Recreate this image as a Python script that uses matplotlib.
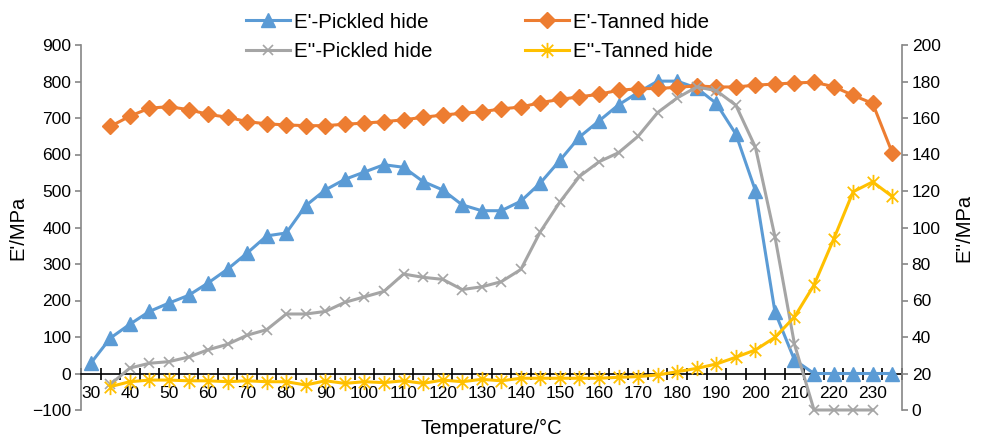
import matplotlib

matplotlib.use("Agg")
import matplotlib.pyplot as plt
import numpy as np
from matplotlib.path import Path
from matplotlib.ticker import FixedLocator

nan = np.nan

temperature = list(range(30, 240, 5))
x_labels = list(range(30, 240, 10))

# E' (left axis, MPa)
e1_pickled = [28, 97, 135, 170, 193, 214, 248, 286, 330, 377, 385, 460, 503, 532,
              552, 572, 565, 526, 503, 462, 446, 446, 472, 522, 584, 648, 692, 736,
              770, 801, 801, 782, 740, 656, 501, 169, 37, 0, 0, 0, 0, 0]
e1_tanned = [nan, 677, 705, 727, 731, 723, 710, 702, 690, 684, 681, 679, 679, 683,
             686, 690, 695, 702, 708, 713, 717, 725, 730, 742, 751, 758, 765, 776,
             780, 781, 784, 788, 785, 785, 790, 793, 796, 798, 786, 762, 740, 605]
# E'' (right axis, MPa)
e2_pickled = [nan, 14, 23, 25.6, 26.5, 29, 33, 36, 41, 44, 52.6, 52.6, 54, 59,
              62, 65, 74.5, 72.7, 71.6, 66, 67.5, 70.3, 77, 97.7, 114, 128, 136, 141,
              150, 163, 171, 177, 175, 167, 144, 95, 36, 0, 0, 0, 0, nan]
e2_tanned = [nan, 12.8, 15.5, 16.4, 16.4, 16, 16, 15.5, 16, 15.5, 15.5, 13.7, 16, 14.6,
             15.5, 15, 16, 14.6, 16.4, 15.5, 16.8, 16, 17.4, 17.4, 17.4, 17.4, 17.4, 17.9,
             18.3, 19.2, 21, 22.8, 25.2, 28.9, 32.9, 39.8, 51, 68.5, 93.5, 119.6, 125, 117]

BLUE = "#5B9BD5"
ORANGE = "#ED7D31"
GRAY = "#A5A5A5"
YELLOW = "#FFC000"
AXIS_GRAY = "#868686"

# excel-like star marker: vertical stroke plus an x
star = Path(
    [(0, -1), (0, 1), (-0.75, -0.75), (0.75, 0.75), (-0.75, 0.75), (0.75, -0.75)],
    [Path.MOVETO, Path.LINETO, Path.MOVETO, Path.LINETO, Path.MOVETO, Path.LINETO],
)

plt.rcParams["font.family"] = ["Liberation Sans", "DejaVu Sans"]

fig = plt.figure(figsize=(9.82, 4.37), dpi=100)
ax1 = fig.add_axes([81 / 982, 27 / 437, 821 / 982, 365 / 437])
ax2 = ax1.twinx()

l1, = ax1.plot(temperature, e1_pickled, color=BLUE, lw=2.2, marker="^",
               markersize=10, label="E'-Pickled hide", clip_on=False, zorder=3)
l3, = ax1.plot(temperature, e1_tanned, color=ORANGE, lw=2.2, marker="D",
               markersize=8, label="E'-Tanned hide", zorder=3)
l2, = ax2.plot(temperature, e2_pickled, color=GRAY, lw=2.2, marker="x",
               markersize=7, markeredgewidth=1.2, label="E''-Pickled hide",
               clip_on=False)
l4, = ax2.plot(temperature, e2_tanned, color=YELLOW, lw=2.2, marker=star,
               markersize=11, markeredgewidth=1.3, label="E''-Tanned hide",
               clip_on=False)

ax1.set_xlim(27.5, 237.5)
ax1.set_ylim(-100, 900)
ax2.set_ylim(0, 200)
ax1.set_yticks(np.arange(-100, 901, 100))
ax2.set_yticks(np.arange(0, 201, 20))

# category style x axis crossing at E' = 0
ax1.spines["bottom"].set_position(("data", 0))
ax1.spines["bottom"].set_color("black")
ax1.spines["bottom"].set_linewidth(1.2)
ax1.spines["top"].set_visible(False)
ax1.spines["right"].set_visible(False)
ax1.spines["left"].set_color(AXIS_GRAY)
ax1.spines["left"].set_linewidth(1.2)
for s in ["top", "bottom", "left"]:
    ax2.spines[s].set_visible(False)
ax2.spines["right"].set_color(AXIS_GRAY)
ax2.spines["right"].set_linewidth(1.2)

ax1.xaxis.set_major_locator(FixedLocator(x_labels))
ax1.xaxis.set_minor_locator(FixedLocator(np.arange(27.5, 238, 5)))
ax1.set_xticklabels([str(v) for v in x_labels])
ax1.tick_params(axis="x", which="major", length=0, pad=9, labelsize=12.5)
ax1.tick_params(axis="x", which="minor", direction="inout", length=8,
                width=1.2, color="black")
ax1.tick_params(axis="y", length=4, width=1.2, color=AXIS_GRAY, pad=3,
                labelsize=12.5)
ax2.tick_params(axis="y", length=4, width=1.2, color=AXIS_GRAY, pad=3,
                labelsize=12.5)

ax1.set_xlabel("Temperature/°C", fontsize=14.5)
ax1.xaxis.set_label_coords(0.5, -0.025)
ax1.set_ylabel("E'/MPa", fontsize=14.5)
ax1.yaxis.set_label_coords(-0.065, 0.5)
ax2.set_ylabel("E''/MPa", fontsize=14.5)
ax2.yaxis.set_label_coords(1.064, 0.5)

fig.legend(handles=[l1, l2, l3, l4], ncol=2, loc="center",
           bbox_to_anchor=(0.488, 0.916), frameon=False, fontsize=14.8,
           handlelength=2.15, handletextpad=0.2, columnspacing=4.5,
           labelspacing=0.5, borderpad=0)

fig.savefig("out.png", dpi=100)
